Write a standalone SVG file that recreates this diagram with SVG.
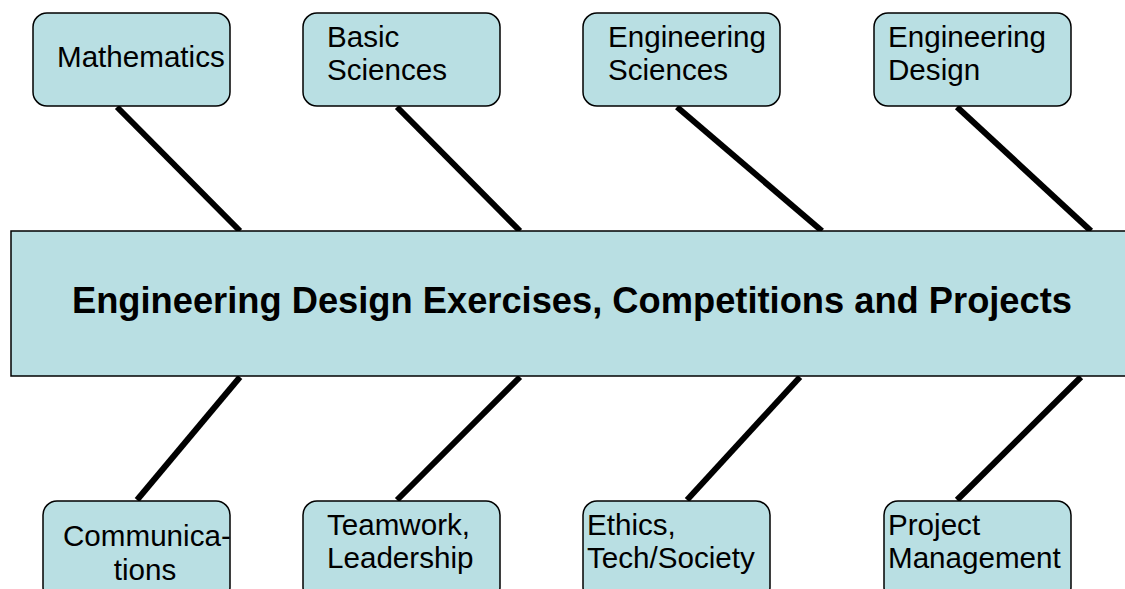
<svg xmlns="http://www.w3.org/2000/svg" width="1125" height="589" viewBox="0 0 1125 589">
  <style>
    .box { fill: #b9dfe3; stroke: #000; stroke-width: 1.5; }
    .hub { fill: #b9dfe3; stroke: #000; stroke-width: 1.5; }
    .lbl { font-family: "Liberation Sans", Arial, sans-serif; font-size: 29.6px; fill: #000; }
    .title { font-family: "Liberation Sans", Arial, sans-serif; font-size: 36px; font-weight: bold; fill: #000; }
    .bone { stroke: #000; stroke-width: 6; stroke-linecap: butt; }
  </style>

  <!-- connectors: diagonal bones from the spine to each topic -->
  <g id="connectors">
    <line class="bone" x1="117" y1="107" x2="240" y2="231"/>
    <line class="bone" x1="397" y1="107" x2="520" y2="231"/>
    <line class="bone" x1="677" y1="107" x2="822" y2="231"/>
    <line class="bone" x1="957" y1="107" x2="1091" y2="231"/>
    <line class="bone" x1="240" y1="377" x2="137" y2="500"/>
    <line class="bone" x1="520" y1="377" x2="397" y2="500"/>
    <line class="bone" x1="800" y1="377" x2="687" y2="500"/>
    <line class="bone" x1="1081" y1="377" x2="957" y2="500"/>
  </g>

  <!-- central spine -->
  <g id="spine">
    <rect class="hub" x="11" y="231" width="1130" height="145"/>
    <text class="title" x="572" y="313" text-anchor="middle" textLength="1000" lengthAdjust="spacingAndGlyphs">Engineering Design Exercises, Competitions and Projects</text>
  </g>

  <!-- top topics -->
  <g id="mathematics">
    <rect class="box" x="33" y="13" width="197" height="93" rx="14"/>
    <text class="lbl" x="57" y="67">Mathematics</text>
  </g>
  <g id="basic-sciences">
    <rect class="box" x="303" y="13" width="197" height="93" rx="14"/>
    <text class="lbl" x="327" y="47">Basic</text>
    <text class="lbl" x="327" y="80">Sciences</text>
  </g>
  <g id="engineering-sciences">
    <rect class="box" x="583" y="13" width="197" height="93" rx="14"/>
    <text class="lbl" x="608" y="47">Engineering</text>
    <text class="lbl" x="608" y="80">Sciences</text>
  </g>
  <g id="engineering-design">
    <rect class="box" x="874" y="13" width="197" height="93" rx="14"/>
    <text class="lbl" x="888" y="47">Engineering</text>
    <text class="lbl" x="888" y="80">Design</text>
  </g>

  <!-- bottom topics -->
  <g id="communications">
    <rect class="box" x="43" y="501" width="187" height="100" rx="14"/>
    <text class="lbl" x="63" y="546">Communica-</text>
    <text class="lbl" x="145" y="580" text-anchor="middle">tions</text>
  </g>
  <g id="teamwork">
    <rect class="box" x="303" y="501" width="197" height="100" rx="14"/>
    <text class="lbl" x="327" y="535">Teamwork,</text>
    <text class="lbl" x="327" y="568">Leadership</text>
  </g>
  <g id="ethics">
    <rect class="box" x="583" y="501" width="187" height="100" rx="14"/>
    <text class="lbl" x="587" y="535">Ethics,</text>
    <text class="lbl" x="587" y="568">Tech/Society</text>
  </g>
  <g id="project-management">
    <rect class="box" x="884" y="501" width="187" height="100" rx="14"/>
    <text class="lbl" x="888" y="535">Project</text>
    <text class="lbl" x="888" y="568">Management</text>
  </g>
</svg>
